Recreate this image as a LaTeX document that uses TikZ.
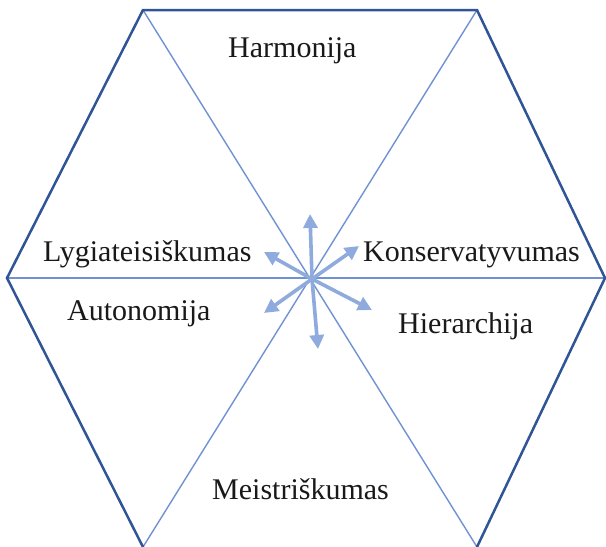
\documentclass[tikz,border=0pt]{standalone}
\usepackage{fontspec}
\setmainfont{Liberation Serif}
\usetikzlibrary{arrows.meta}
\definecolor{outerblue}{HTML}{2F5597}
\definecolor{innerblue}{RGB}{112,146,210}
\definecolor{arrowblue}{HTML}{8FAADC}
\begin{document}
\begin{tikzpicture}[x=1pt,y=-1pt,
  outerline/.style={draw=outerblue,line width=2.5pt,line join=miter},
  innerline/.style={draw=innerblue,line width=1.4pt},
  ray/.style={draw=arrowblue,line width=3.6pt,-{Triangle[length=14pt,width=14pt]}},
  lbl/.style={anchor=base west,inner sep=0pt,font=\fontsize{30}{36}\selectfont,text=black!90}]
\useasboundingbox (0,0) rectangle (606,547);
% hexagon vertices
\coordinate (tl) at (143,10);
\coordinate (tr) at (477,10);
\coordinate (r) at (605,278);
\coordinate (br) at (477,547);
\coordinate (bl) at (143,547);
\coordinate (l) at (7,278);
\coordinate (c) at (310,278);
% inner spokes
\draw[innerline] (tl) -- (br);
\draw[innerline] (tr) -- (bl);
\draw[innerline] (l) -- (r);
% outer hexagon (bottom edge lies outside the picture)
\draw[outerline] (bl) -- (l) -- (tl) -- (tr) -- (r) -- (br);
% arrows
\coordinate (ac) at (312,279);
\coordinate (aU) at (310,214);
\coordinate (aUR) at (359,246);
\coordinate (aUL) at (264,252);
\coordinate (aDL) at (264,313);
\coordinate (aDR) at (372,310);
\coordinate (aD) at (318,349);
\foreach \t in {aU,aUR,aUL,aDL,aDR,aD}
  \draw[ray] (ac) -- (\t);
% labels
\node[lbl] (harm) at (228,57) {Harmonija};
\node[lbl] (lyg) at (43,261) {Lygiateisiškumas};
\node[lbl] (kons) at (363,261) {Konservatyvumas};
\node[lbl] (auto) at (67,320) {Autonomija};
\node[lbl] (hier) at (398,333) {Hierarchija};
\node[lbl] (meis) at (212,499) {Meistriškumas};
\end{tikzpicture}
\end{document}
